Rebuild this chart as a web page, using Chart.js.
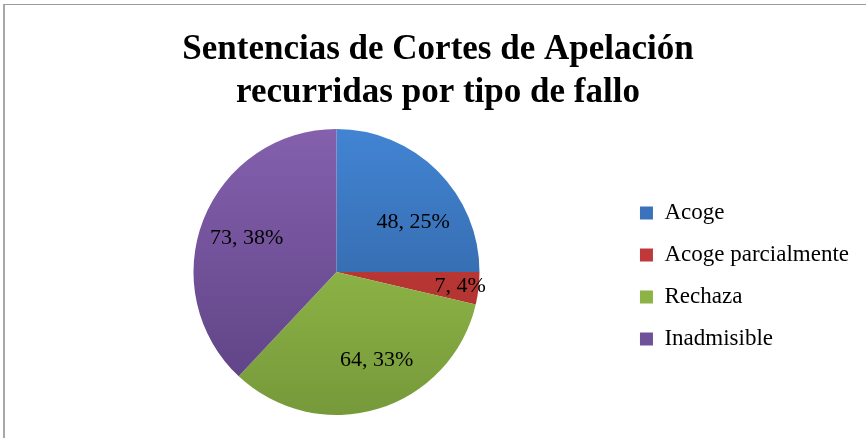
<!DOCTYPE html>
<html>
<head>
<meta charset="utf-8">
<script src="https://cdn.jsdelivr.net/npm/chart.js@4.4.0/dist/chart.umd.min.js"></script>
<style>
  html, body { margin: 0; padding: 0; background: #fff; }
  .wrap { position: relative; width: 866px; height: 438px; overflow: hidden; }
  .frame { position: absolute; left: 3px; top: 4px; width: 900px; height: 500px;
           border-top: 1px solid #9c9c9c; border-left: 2px solid #a8a8a8; pointer-events: none; }
  canvas { position: absolute; left: 0; top: 0; }
</style>
</head>
<body>
<div class="wrap">
  <canvas id="chart" width="866" height="438"></canvas>
  <div class="frame"></div>
</div>
<script>
// Sentencias recurridas por tipo de fallo
const titleLines = ['Sentencias de Cortes de Apelación', 'recurridas por tipo de fallo'];
const categories = ['Acoge', 'Acoge parcialmente', 'Rechaza', 'Inadmisible'];
const values = [48, 7, 64, 73];

// colour pairs: light (top of the pie) / dark (bottom)
const topColors = ['#4284d3', '#d0413e', '#a0cb50', '#8460ad'];
const bottomColors = ['#2c5a94', '#a02c2a', '#76993a', '#5c4182'];
const flatColors = ['#3a72bc', '#c0393a', '#8db346', '#6f519a'];

// where the value label sits: fraction of radius, angle nudge in degrees
const labelRadius = [0.64, 0.87, 0.68, 0.67];
const labelShift = [12, 0, -7.5, -1];

const serif = '"Liberation Serif", "Times New Roman", serif';
// the legend eats room on the right, so pad the title lines to keep them centred on the page
const titlePad = '\u00A0\u00A0\u00A0\u00A0';

const gradientFill = (ctx) => {
  const chart = ctx.chart;
  const area = chart.chartArea;
  const i = ctx.dataIndex;
  if (!area) return flatColors[i];
  const g = chart.ctx.createLinearGradient(0, area.top, 0, area.bottom);
  g.addColorStop(0, topColors[i]);
  g.addColorStop(1, bottomColors[i]);
  return g;
};

const valueLabels = {
  id: 'valueLabels',
  afterDatasetsDraw(chart) {
    const ctx = chart.ctx;
    const total = values.reduce((a, b) => a + b, 0);
    const arcs = chart.getDatasetMeta(0).data;
    ctx.save();
    ctx.font = '22px ' + serif;
    ctx.fillStyle = '#000';
    ctx.textAlign = 'center';
    ctx.textBaseline = 'middle';
    arcs.forEach((arc, i) => {
      const p = arc.getProps(['x', 'y', 'startAngle', 'endAngle', 'outerRadius'], true);
      const mid = (p.startAngle + p.endAngle) / 2 + labelShift[i] * Math.PI / 180;
      const r = p.outerRadius * labelRadius[i];
      const pct = Math.round(values[i] / total * 100);
      ctx.fillText(values[i] + ', ' + pct + '%', p.x + Math.cos(mid) * r, p.y + Math.sin(mid) * r);
    });
    ctx.restore();
  }
};

new Chart(document.getElementById('chart'), {
  type: 'pie',
  data: {
    labels: categories,
    datasets: [{
      data: values,
      backgroundColor: gradientFill,
      borderWidth: 0
    }]
  },
  options: {
    responsive: false,
    animation: false,
    layout: { padding: { left: 52, right: 7, top: 0, bottom: 23 } },
    plugins: {
      tooltip: { enabled: false },
      title: {
        display: true,
        text: titleLines.map(t => t + titlePad),
        color: '#000',
        font: { family: serif, size: 35, weight: 'bold', lineHeight: 1.22 },
        padding: { top: 29, bottom: 14.6 }
      },
      legend: {
        position: 'right',
        fullSize: false,
        // empty title only used to nudge the rows down a bit
        title: { display: true, text: '', color: '#000', padding: 0, font: { size: 8, lineHeight: 1 } },
        labels: {
          color: '#000',
          font: { family: serif, size: 23 },
          boxWidth: 13,
          boxHeight: 13,
          padding: 19,
          generateLabels(chart) {
            return categories.map((c, i) => ({
              text: c,
              fillStyle: flatColors[i],
              strokeStyle: flatColors[i],
              fontColor: '#000',
              lineWidth: 0,
              index: i,
              hidden: false
            }));
          }
        }
      }
    }
  },
  plugins: [valueLabels]
});
</script>
</body>
</html>
